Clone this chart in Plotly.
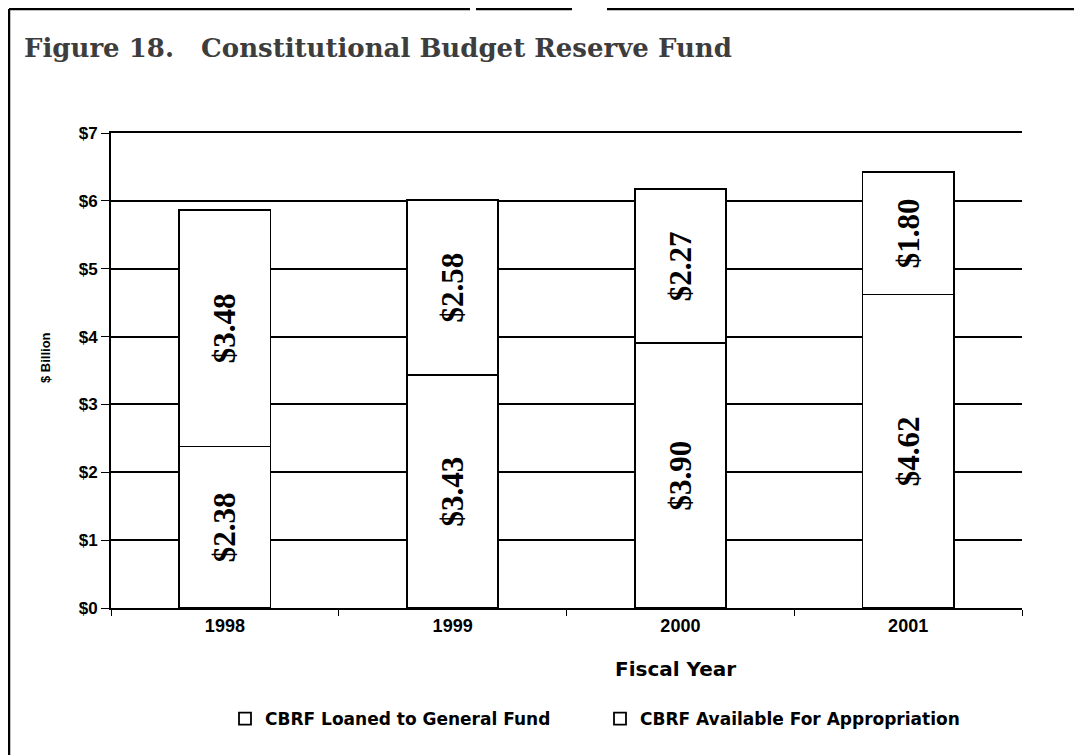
import plotly.graph_objects as go

years = ["1998", "1999", "2000", "2001"]
loaned = [2.38, 3.43, 3.90, 4.62]
available = [3.48, 2.58, 2.27, 1.80]
y_ticks = [0, 1, 2, 3, 4, 5, 6, 7]
y_tick_text = ["$0", "$1", "$2", "$3", "$4", "$5", "$6", "$7"]

W, H = 1082, 755
OFF = 8  # page body margin: the figure starts 8px in from the window corner
ML, MR, MT, MB = 103, 68, 125, 155
PW, PH = W - ML - MR, H - MT - MB

SANS = "Liberation Sans, Arial, sans-serif"
WIDE = "DejaVu Sans, Verdana, sans-serif"
SERIF = "Liberation Serif, Times New Roman, serif"
WIDE_SERIF = "DejaVu Serif, Georgia, serif"


def px_x(sx):
    # screen pixel -> paper x
    return (sx - OFF - ML) / PW


def px_y(sy):
    return (H - MB - (sy - OFF)) / PH


fig = go.Figure()
for name, vals in [
    ("CBRF Loaned to General Fund", loaned),
    ("CBRF Available For Appropriation", available),
]:
    fig.add_bar(
        x=years,
        y=vals,
        name=name,
        marker=dict(color="white", line=dict(color="black", width=1.8)),
        texttemplate="<b>$%{y:.2f}</b>",
        textposition="inside",
        insidetextanchor="middle",
        textangle=-90,
        constraintext="none",
        textfont=dict(family=SERIF, size=31, color="black", weight="bold"),
    )

# page frame from the scan
frame = [
    (9, 9, 470, 9),
    (476, 9, 572, 9),
    (607, 9, W + OFF, 9),
    (9, 9, 9, H + OFF),
]
for x0, y0, x1, y1 in frame:
    fig.add_shape(
        type="line", xref="paper", yref="paper",
        x0=px_x(x0), y0=px_y(y0), x1=px_x(x1), y1=px_y(y1),
        line=dict(color="black", width=2.5),
    )

fig.add_annotation(
    text="<b>Figure 18.   Constitutional Budget Reserve Fund</b>",
    xref="paper", yref="paper", x=px_x(22), y=px_y(48),
    xanchor="left", yanchor="middle", showarrow=False,
    font=dict(family=WIDE_SERIF, size=26, color="#3d3d3d"),
)
fig.add_annotation(
    text="Fiscal Year",
    xref="paper", yref="paper", x=px_x(675), y=px_y(669),
    xanchor="center", yanchor="middle", showarrow=False,
    font=dict(family=WIDE, size=20, color="black", weight="bold"),
)
fig.add_annotation(
    text="$ Billion",
    xref="paper", yref="paper", x=px_x(45), y=px_y(358),
    xanchor="center", yanchor="middle", showarrow=False, textangle=-90,
    font=dict(family=SANS, size=13, color="black", weight="bold"),
)

fig.update_layout(
    width=W,
    height=H,
    barmode="stack",
    bargap=0.6,
    paper_bgcolor="white",
    plot_bgcolor="white",
    margin=dict(l=ML, r=MR, t=MT, b=MB),
    showlegend=True,
    legend=dict(
        orientation="h",
        x=px_x(225), y=px_y(719),
        xanchor="left", yanchor="middle",
        entrywidth=330,
        itemwidth=30,
        traceorder="normal",
        font=dict(family=WIDE, size=17, color="black", weight="bold"),
        bgcolor="rgba(0,0,0,0)",
    ),
    xaxis=dict(
        showgrid=False,
        showline=True,
        mirror=True,
        linecolor="black",
        linewidth=2,
        ticks="outside",
        tickson="boundaries",
        ticklen=6,
        tickcolor="black",
        tickfont=dict(family=SANS, size=18, color="black", weight="bold"),
    ),
    yaxis=dict(
        range=[0, 7],
        tickvals=y_ticks,
        ticktext=y_tick_text,
        showgrid=True,
        gridcolor="black",
        gridwidth=1.8,
        showline=True,
        linecolor="black",
        linewidth=2,
        ticks="outside",
        ticklen=8,
        tickcolor="black",
        zeroline=False,
        tickfont=dict(family=SANS, size=17, color="black", weight="bold"),
    ),
)

fig.write_html("out.html")
